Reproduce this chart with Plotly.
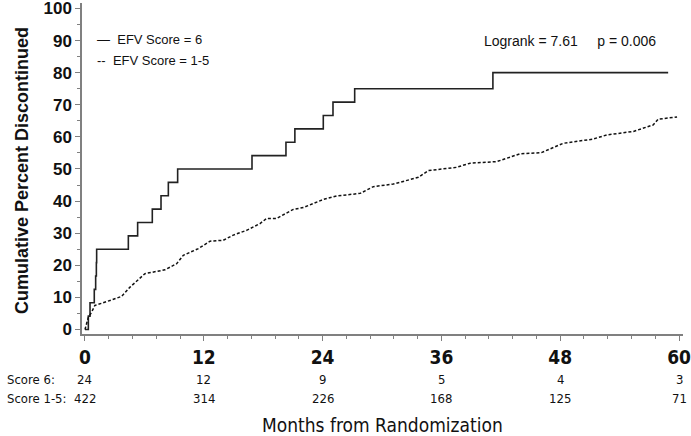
import plotly.graph_objects as go

# Score 6 (solid) Kaplan-Meier cumulative discontinuation
t6 = [0, 0.34, 0.51, 0.94, 1.08, 1.15, 1.18, 4.38, 5.32, 6.8, 7.68, 8.42, 9.36,
      16.87, 20.3, 21.2, 24.07, 25.05, 27.24, 41.2, 58.9]
v6 = [0, 4.17, 8.33, 12.5, 16.67, 20.83, 25.0, 29.17, 33.33, 37.5, 41.67, 45.83, 50.0,
      54.17, 58.33, 62.5, 66.67, 70.83, 75.0, 80.0, 80.0]

# Score 1-5 (dashed)
t15 = [0, 0.15, 0.34, 0.67, 1.0, 2.2, 3.7, 4.55, 6.06, 8.08, 9.26, 9.93, 11.45, 12.63,
       13.97, 14.98, 16.33, 17.68, 18.35, 19.36, 21.04, 22.05, 24.07, 25.42, 27.8, 29.12,
       31.14, 33.67, 34.68, 37.5, 38.9, 41.6, 43.9, 46.1, 48.3, 51.3, 52.7, 55.4, 57.4,
       57.9, 59.8]
v15 = [0, 1.5, 3.8, 5.4, 7.5, 8.7, 10.3, 13.2, 17.4, 18.6, 20.5, 23.1, 25.2, 27.5,
       27.8, 29.4, 30.9, 33.0, 34.6, 34.6, 37.4, 38.0, 40.5, 41.6, 42.4, 44.5,
       45.3, 47.4, 49.5, 50.5, 51.8, 52.3, 54.7, 55.1, 58.0, 59.3, 60.6, 61.7, 63.75,
       65.5, 66.2]

x_ticks = [0, 12, 24, 36, 48, 60]
y_ticks = [0, 10, 20, 30, 40, 50, 60, 70, 80, 90, 100]
risk6 = ["24", "12", "9", "5", "4", "3"]
risk15 = ["422", "314", "226", "168", "125", "71"]

NARROW = "Liberation Sans Narrow, Arial Narrow, DejaVu Sans Condensed, sans-serif"
ARIAL = "Liberation Sans, Arial, sans-serif"

fig = go.Figure()
fig.add_trace(go.Scatter(x=t6, y=v6, mode="lines", line=dict(color="#222", width=1.6, shape="hv"),
                         showlegend=False, hoverinfo="skip"))
fig.add_trace(go.Scatter(x=t15, y=v15, mode="lines",
                         line=dict(color="#111", width=1.5, dash="3px,2px"),
                         showlegend=False, hoverinfo="skip"))

L, R, T, B = 82, 8, 3, 102
H = 436 - T - B
W = 691 - L - R

def py(pix):
    return (436 - B - pix) / H

def px(pix):
    return (pix - L) / W

ann = []
for xv, a, b in zip(x_ticks, risk6, risk15):
    ann.append(dict(x=xv, y=py(379), xref="x", yref="paper", text=a, showarrow=False,
                    font=dict(family=NARROW, size=13, color="#111"), xanchor="center", yanchor="middle"))
    ann.append(dict(x=xv, y=py(398), xref="x", yref="paper", text=b, showarrow=False,
                    font=dict(family=NARROW, size=13, color="#111"), xanchor="center", yanchor="middle"))
ann.append(dict(x=px(5), y=py(379), xref="paper", yref="paper", text="Score 6:", showarrow=False,
                font=dict(family=NARROW, size=13, color="#111"), xanchor="left", yanchor="middle"))
ann.append(dict(x=px(5), y=py(398), xref="paper", yref="paper", text="Score 1-5:", showarrow=False,
                font=dict(family=NARROW, size=13, color="#111"), xanchor="left", yanchor="middle"))
ann.append(dict(x=30, y=py(425), xref="x", yref="paper", text="Months from Randomization", showarrow=False,
                font=dict(family=NARROW, size=19, color="#111"), xanchor="center", yanchor="middle"))
ann.append(dict(x=px(22), y=py(171), xref="paper", yref="paper", text="Cumulative Percent Discontinued",
                textangle=-90, showarrow=False, font=dict(family=ARIAL, size=18, color="#111", weight="bold"),
                xanchor="center", yanchor="middle"))
ann.append(dict(x=px(95), y=py(40), xref="paper", yref="paper", text="—  EFV Score = 6",
                showarrow=False, font=dict(family=ARIAL, size=13, color="#111"), xanchor="left", yanchor="middle"))
ann.append(dict(x=px(95), y=py(60), xref="paper", yref="paper", text="--  EFV Score = 1-5",
                showarrow=False, font=dict(family=ARIAL, size=13, color="#111"), xanchor="left", yanchor="middle"))
ann.append(dict(x=px(482), y=py(41), xref="paper", yref="paper",
                text="Logrank = 7.61&nbsp;&nbsp;&nbsp;&nbsp;&nbsp;p = 0.006",
                showarrow=False, font=dict(family=ARIAL, size=14, color="#111"), xanchor="left", yanchor="middle"))

fig.update_layout(
    width=691, height=436, margin=dict(l=L, r=R, t=T, b=B, autoexpand=False),
    paper_bgcolor="white", plot_bgcolor="white",
    annotations=ann,
    xaxis=dict(range=[-0.3, 60.4], tickvals=x_ticks, ticktext=[str(v) for v in x_ticks],
               showline=True, linecolor="#808080", linewidth=1.5, ticks="outside", ticklen=5,
               tickcolor="#808080", tickwidth=1.2, showgrid=False, zeroline=False, automargin=False,
               ticklabeloverflow="allow",
               tickfont=dict(family=NARROW, size=19, color="#111", weight="bold"),
               minor=dict(dtick=2.4, tick0=0, ticks="outside", ticklen=3, tickcolor="#808080", showgrid=False)),
    yaxis=dict(range=[-1.4, 101.7], tickvals=y_ticks,
               showline=True, linecolor="#808080", linewidth=1.5, ticks="outside", ticklen=5,
               tickcolor="#808080", tickwidth=1.2, showgrid=False, zeroline=False, automargin=False,
               ticklabeloverflow="allow",
               tickfont=dict(family=ARIAL, size=17, color="#111", weight="bold"),
               minor=dict(dtick=5, tick0=0, ticks="outside", ticklen=3, tickcolor="#808080", showgrid=False)),
)
fig.write_html("out.html", config={"displayModeBar": False},
               post_script="document.body.style.margin='0px';")
